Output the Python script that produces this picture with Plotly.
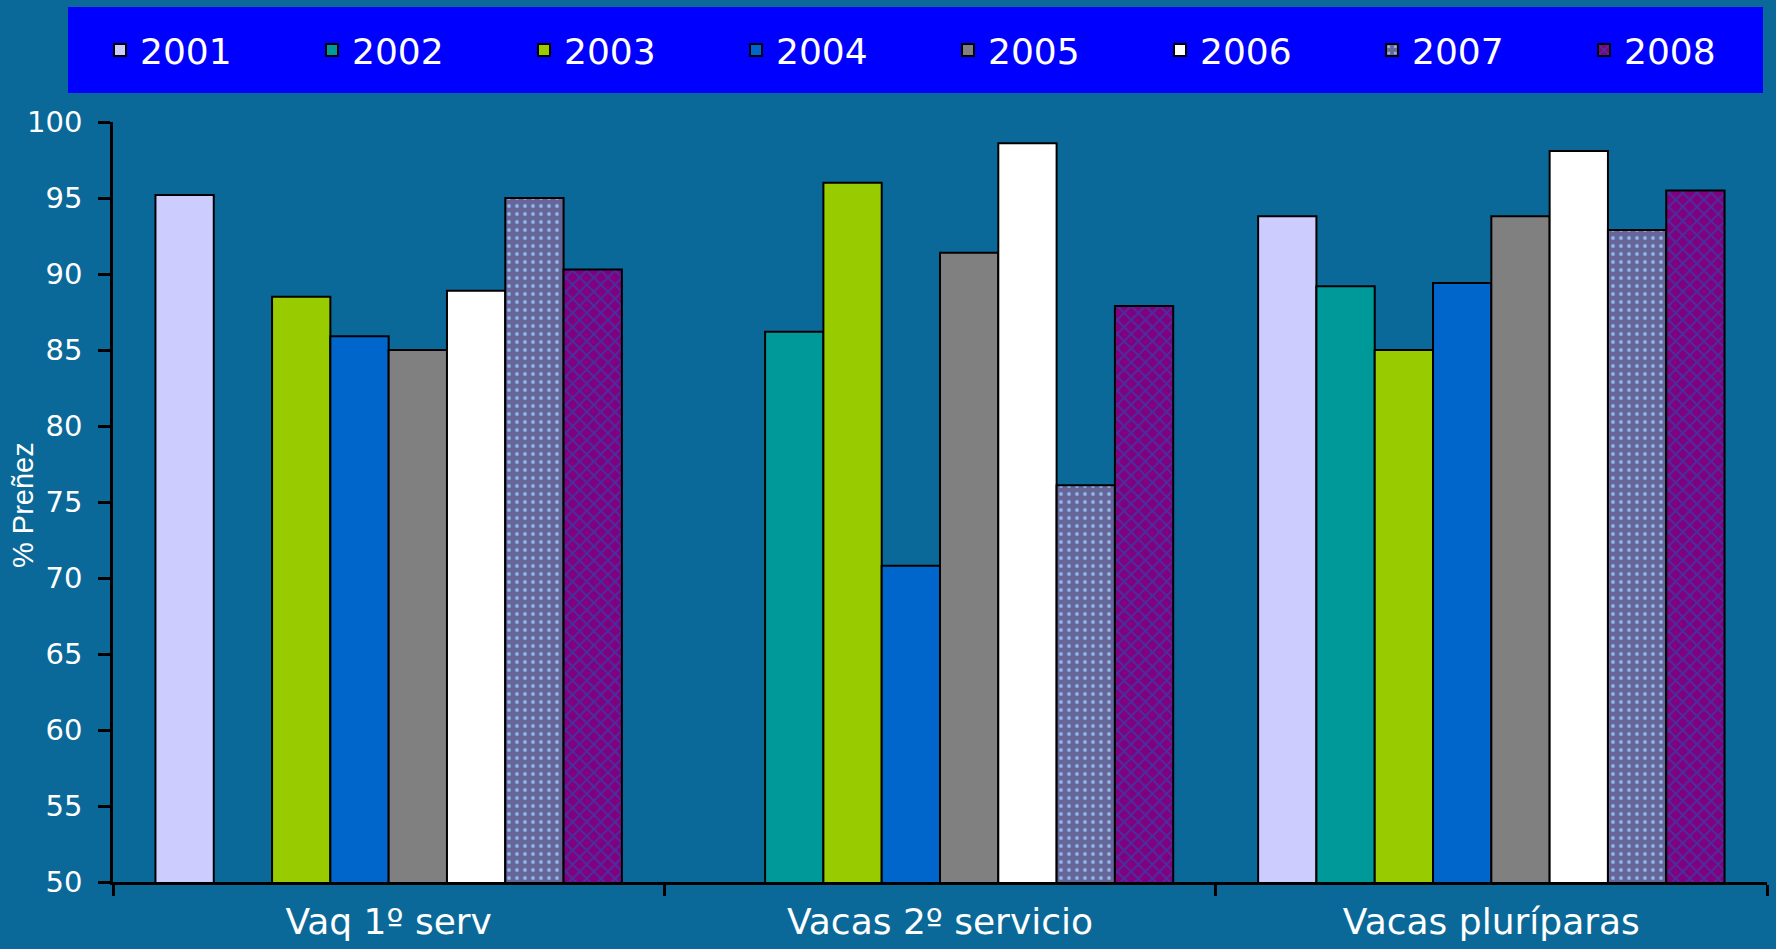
import plotly.graph_objects as go

categories = ["Vaq 1º serv", "Vacas 2º servicio", "Vacas pluríparas"]
years = ["2001", "2002", "2003", "2004", "2005", "2006", "2007", "2008"]
v2001 = [95.2, None, 93.8]
v2002 = [None, 86.2, 89.2]
v2003 = [88.5, 96.0, 85.0]
v2004 = [85.9, 70.8, 89.4]
v2005 = [85.0, 91.4, 93.8]
v2006 = [88.9, 98.6, 98.1]
v2007 = [95.0, 76.1, 92.9]
v2008 = [90.3, 87.9, 95.5]
series = [v2001, v2002, v2003, v2004, v2005, v2006, v2007, v2008]

colors = ["#CCCCFF", "#009999", "#99CC00", "#0066CC", "#808080", "#FFFFFF", "#666699", "#800080"]
patterns = [None, None, None, None, None, None,
            dict(shape=".", fgcolor="#8FB4EA", bgcolor="#666699", size=8, solidity=0.18, fillmode="replace"),
            dict(shape="x", fgcolor="#4A2F9C", bgcolor="#800080", size=10, solidity=0.35, fillmode="replace")]

W, H = 1776, 949
L, R, T, B = 113, 9, 122, 67
pw, ph = W - L - R, H - T - B
BG = "#0A6999"

def px_x(p):
    return (p - L) / pw

def px_y(p):
    return (H - B - p) / ph

fig = go.Figure()
for yr, vals, c, pat in zip(years, series, colors, patterns):
    marker = dict(color=c, line=dict(color="black", width=2))
    if pat is not None:
        marker["pattern"] = pat
    fig.add_trace(go.Bar(name=yr, x=categories, y=vals, marker=marker))

font_main = "DejaVu Sans"
fig.update_layout(
    width=W, height=H,
    margin=dict(l=L, r=R, t=T, b=B, autoexpand=False),
    paper_bgcolor=BG,
    plot_bgcolor=BG,
    barmode="group",
    bargap=0.154,
    bargroupgap=0,
    font=dict(family=font_main, color="white"),
    showlegend=True,
    legend=dict(
        orientation="h",
        x=px_x(100), xanchor="left",
        y=px_y(50), yanchor="middle",
        bgcolor="rgba(0,0,0,0)",
        font=dict(family=font_main, size=36, color="white"),
        entrywidth=167, entrywidthmode="pixels",
        traceorder="normal",
        itemclick=False, itemdoubleclick=False,
    ),
    shapes=[dict(type="rect", xref="paper", yref="paper",
                 x0=px_x(68), x1=px_x(1763), y0=px_y(93), y1=px_y(7),
                 fillcolor="#0000FF", line=dict(width=0), layer="below")],
    annotations=[dict(text="% Preñez", xref="paper", yref="paper",
                      x=px_x(23), y=px_y(505), textangle=-90, showarrow=False,
                      font=dict(family="Liberation Sans", size=29, color="white"),
                      xanchor="center", yanchor="middle")],
)
fig.update_yaxes(
    range=[50, 100], dtick=5, tick0=50,
    showgrid=False, zeroline=False,
    showline=True, linecolor="black", linewidth=2.5,
    ticks="outside", ticklen=12, tickwidth=2.5, tickcolor="black",
    ticklabelstandoff=10,
    tickfont=dict(family=font_main, size=29, color="white"),
)
fig.update_xaxes(
    showgrid=False, zeroline=False,
    showline=True, linecolor="black", linewidth=2.5,
    ticks="outside", ticklen=11, tickwidth=2.5, tickcolor="black",
    tickson="boundaries",
    ticklabelstandoff=6,
    tickfont=dict(family=font_main, size=36, color="white"),
)

post = ("document.body.style.margin='0';document.body.style.padding='0';"
        "document.body.style.overflow='hidden';"
        "document.documentElement.style.overflow='hidden';"
        "document.body.style.background='" + BG + "';")
fig.write_html("out.html", post_script=post, config={"displayModeBar": False})
